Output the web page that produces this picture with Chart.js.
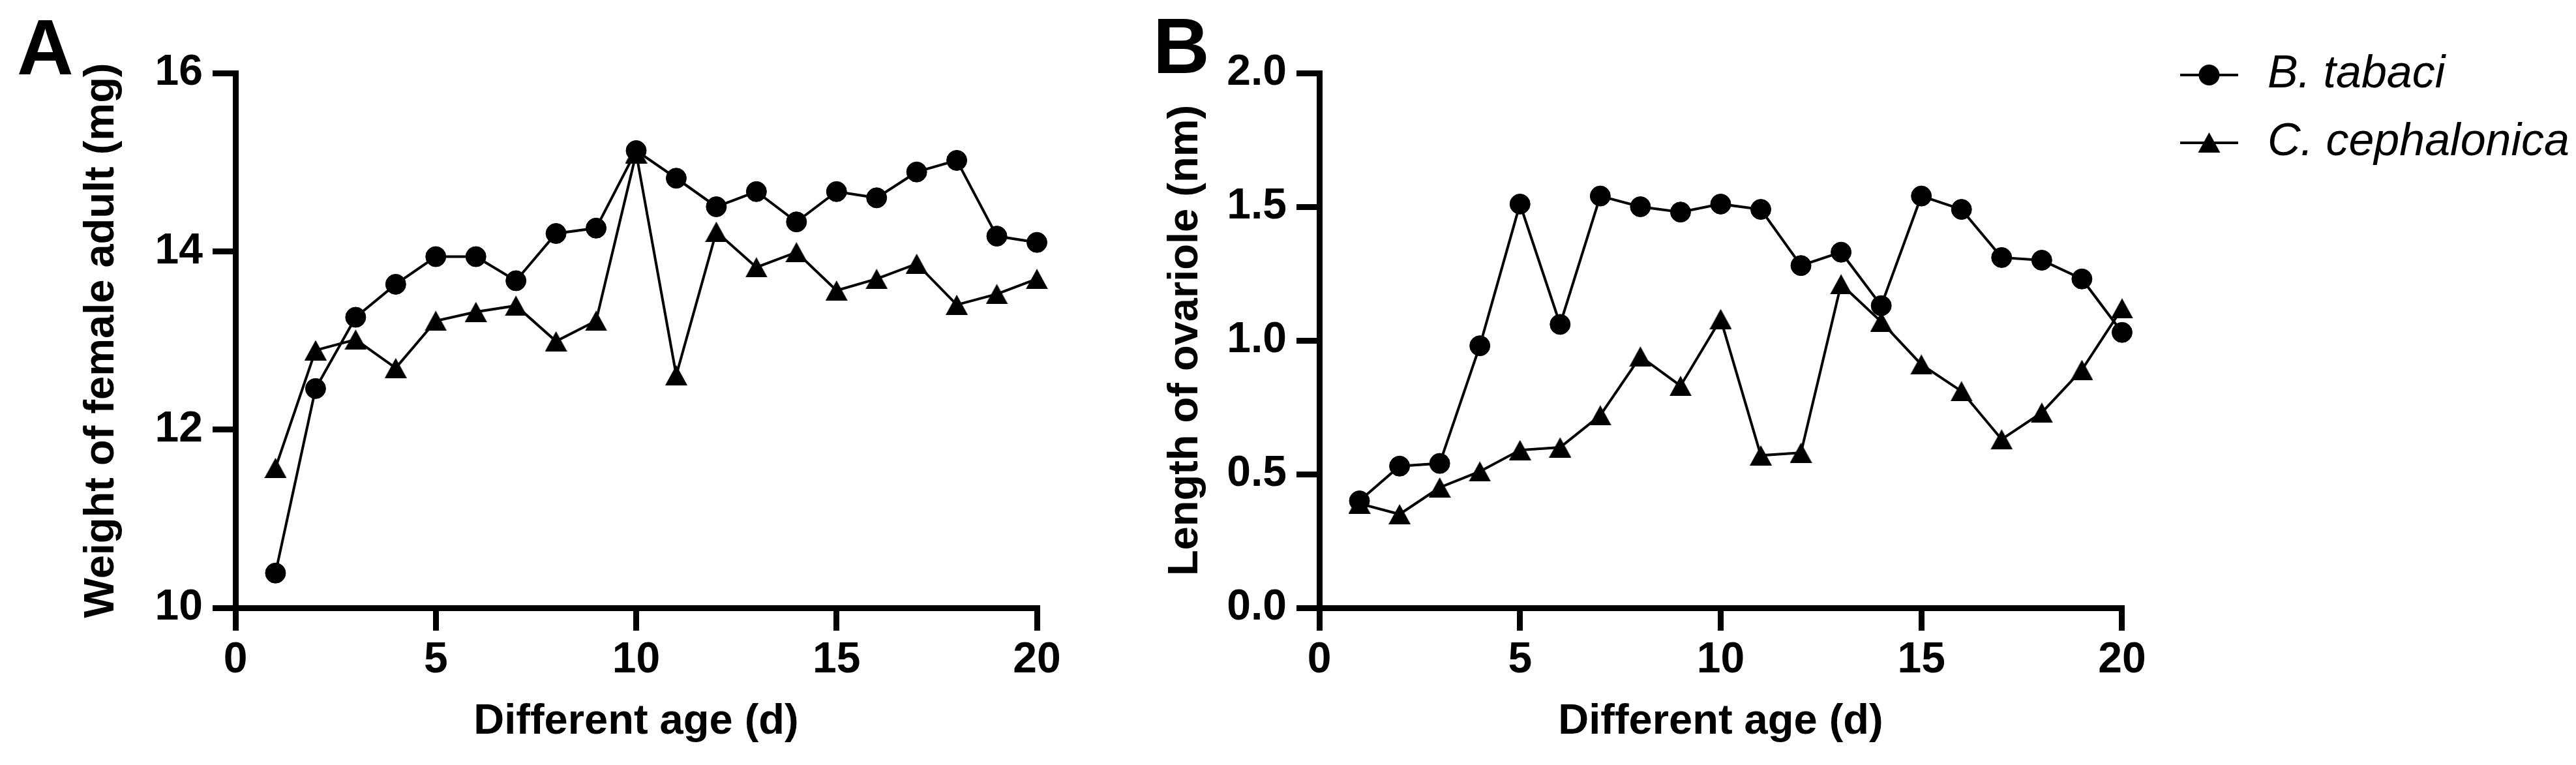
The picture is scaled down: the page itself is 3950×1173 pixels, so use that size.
<!DOCTYPE html>
<html>
<head>
<meta charset="utf-8">
<script src="https://cdn.jsdelivr.net/npm/chart.js@4.4.1/dist/chart.umd.min.js"></script>
<style>
html,body{margin:0;padding:0;background:#fff;}
body{width:3950px;height:1173px;position:relative;overflow:hidden;font-family:"Liberation Sans",Arial,sans-serif;}
canvas{position:absolute;top:0;}
.panel{position:absolute;font-weight:bold;font-size:120px;line-height:1;color:#000;font-family:"Liberation Sans",Arial,sans-serif;}
</style>
</head>
<body>
<div class="panel" style="left:26px;top:12px">A</div>
<div class="panel" style="left:1768px;top:10px">B</div>
<canvas id="cA" width="1700" height="1173" style="left:0px"></canvas>
<canvas id="cB" width="2250" height="1173" style="left:1700px"></canvas>
<script>
// ---- data ----
const days = [1,2,3,4,5,6,7,8,9,10,11,12,13,14,15,16,17,18,19,20];
const seriesNames = ['B. tabaci', 'C. cephalonica'];
const weightTabaci = [10.39,12.46,13.26,13.63,13.94,13.94,13.67,14.20,14.26,15.13,14.82,14.50,14.67,14.33,14.67,14.60,14.89,15.02,14.17,14.10];
const weightCephalonica = [11.57,12.89,13.01,12.69,13.22,13.32,13.39,12.99,13.22,15.10,12.61,14.22,13.82,13.99,13.56,13.69,13.86,13.40,13.52,13.69];
const ovarioleTabaci = [0.40,0.53,0.54,0.98,1.51,1.06,1.54,1.50,1.48,1.51,1.49,1.28,1.33,1.13,1.54,1.49,1.31,1.30,1.23,1.03];
const ovarioleCephalonica = [0.39,0.35,0.45,0.51,0.59,0.60,0.72,0.94,0.83,1.08,0.57,0.58,1.21,1.07,0.91,0.81,0.63,0.73,0.89,1.12];
const xTicks = [0,5,10,15,20];
const yTicksA = [10,12,14,16];
const yTicksB = [0,0.5,1.0,1.5,2.0];
const xTitle = 'Different age (d)';
const yTitleA = 'Weight of female adult (mg)';
const yTitleB = 'Length of ovariole (nm)';

const FONT = '"Liberation Sans", Arial, sans-serif';

// ---- marker images ----
function triangleImage(){
  const c = document.createElement('canvas');
  c.width = 34; c.height = 31;
  const g = c.getContext('2d');
  g.fillStyle = '#000';
  g.beginPath(); g.moveTo(17,0); g.lineTo(34,31); g.lineTo(0,31); g.closePath(); g.fill();
  return c;
}
function legendImage(kind){
  const c = document.createElement('canvas');
  c.width = 154; c.height = 40;
  const g = c.getContext('2d');
  g.strokeStyle = '#000'; g.lineWidth = 4;
  g.beginPath(); g.moveTo(55,20); g.lineTo(144,20); g.stroke();
  g.fillStyle = '#000';
  const cx = 99.5;
  if(kind === 'circle'){
    g.beginPath(); g.arc(cx,20,16,0,Math.PI*2); g.fill();
  } else {
    g.beginPath(); g.moveTo(cx,4); g.lineTo(cx+17,35); g.lineTo(cx-17,35); g.closePath(); g.fill();
  }
  return c;
}
const triImg = triangleImage();
const legendImgs = [legendImage('circle'), legendImage('triangle')];

function pts(arr){ return days.map((d,i)=>({x:d, y:arr[i]})); }

function datasets(a, b){
  return [
    {label:seriesNames[0], data:pts(a), borderColor:'#000', backgroundColor:'#000', borderWidth:4,
     pointStyle:'circle', pointRadius:15.5, pointBorderWidth:1, pointBackgroundColor:'#000', pointBorderColor:'#000',
     tension:0, clip:false},
    {label:seriesNames[1], data:pts(b), borderColor:'#000', backgroundColor:'#000', borderWidth:4,
     pointStyle:triImg, pointRadius:16, pointBorderWidth:0, pointBackgroundColor:'#000', pointBorderColor:'#000',
     tension:0, clip:false}
  ];
}

function axisCommon(){
  return {
    grid:{drawOnChartArea:false, drawTicks:true, tickLength:35, lineWidth:9, color:'#000'},
    border:{display:true, width:9, color:'#000'}
  };
}

function scales(yMin, yMax, yTickVals, yFmt, yTitle){
  return {
    x:Object.assign(axisCommon(), {
      type:'linear', min:xTicks[0], max:xTicks[xTicks.length-1],
      afterBuildTicks(s){ s.ticks = xTicks.map(v=>({value:v})); },
      ticks:{padding:6, color:'#000', font:{family:FONT, size:66, weight:'bold'}, maxRotation:0, autoSkip:false,
             callback:v=>String(v)},
      title:{display:true, text:xTitle, color:'#000', font:{family:FONT, size:65, weight:'bold'}, padding:0},
      afterFit(s){ s.height = 214; }
    }),
    y:Object.assign(axisCommon(), {
      type:'linear', min:yMin, max:yMax,
      afterBuildTicks(s){ s.ticks = yTickVals.map(v=>({value:v})); },
      ticks:{padding:15, color:'#000', font:{family:FONT, size:66, weight:'bold'}, autoSkip:false, callback:yFmt},
      title:{display:true, text:yTitle, color:'#000', font:{family:FONT, size:65, weight:'bold'}, padding:0},
      afterFit(s){ s.width = 244; }
    })
  };
}

const legendShift = {
  id:'legendShift',
  afterLayout(chart){
    const lg = chart.legend;
    if(lg && lg.options && lg.options.display){
      const h = lg.height;
      lg.top = 46; lg.bottom = 46 + h;
    }
  }
};

new Chart(document.getElementById('cA'), {
  type:'line',
  data:{datasets:datasets(weightTabaci, weightCephalonica)},
  options:{
    responsive:false, animation:false, devicePixelRatio:1, events:[],
    layout:{padding:{left:117, top:112, right:110, bottom:27}},
    plugins:{legend:{display:false}, tooltip:{enabled:false}},
    scales:scales(yTicksA[0], yTicksA[yTicksA.length-1], yTicksA, v=>String(v), yTitleA)
  }
});

new Chart(document.getElementById('cB'), {
  type:'line',
  data:{datasets:datasets(ovarioleTabaci, ovarioleCephalonica)},
  options:{
    responsive:false, animation:false, devicePixelRatio:1, events:[],
    layout:{padding:{left:79, top:112, right:0, bottom:27}},
    plugins:{
      tooltip:{enabled:false},
      legend:{
        display:true, position:'right', align:'start', fullSize:false, maxWidth:760,
        labels:{
          usePointStyle:true, pointStyleWidth:154, padding:34, color:'#000',
          font:{family:FONT, size:70, style:'italic', weight:'normal'},
          generateLabels(chart){
            return chart.data.datasets.map((ds,i)=>({
              text:ds.label, pointStyle:legendImgs[i], fillStyle:'#000', strokeStyle:'#000',
              lineWidth:0, hidden:false, datasetIndex:i, fontColor:'#000'
            }));
          }
        }
      }
    },
    scales:scales(yTicksB[0], yTicksB[yTicksB.length-1], yTicksB, v=>Number(v).toFixed(1), yTitleB)
  },
  plugins:[legendShift]
});
</script>
</body>
</html>
